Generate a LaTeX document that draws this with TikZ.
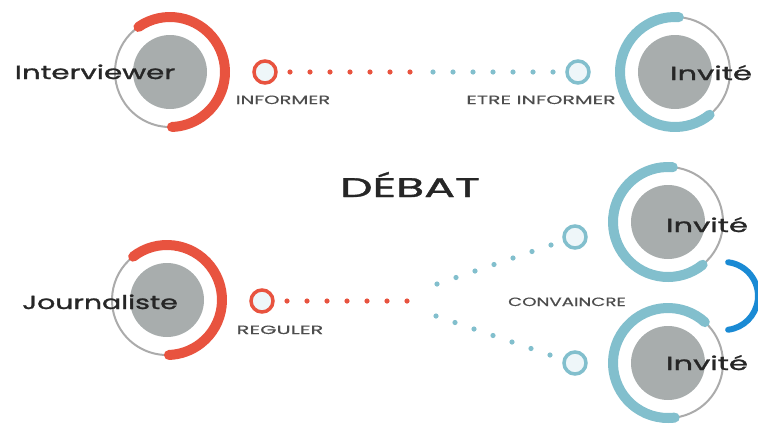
\documentclass[tikz,border=0pt]{standalone}
\usepackage{fontspec}
\usepackage{graphicx}
\setmainfont{Poppins}
\newfontfamily\bigfont[FakeBold=1.2]{Poppins}
\newfontfamily\labfont[FakeBold=0.4]{Poppins}
\newcommand\hstr[2]{\scalebox{#1}[1]{#2}}
\usetikzlibrary{calc}
\definecolor{cred}{RGB}{232,83,63}
\definecolor{cblue}{RGB}{130,191,205}
\definecolor{cdisc}{RGB}{168,173,173}
\definecolor{cring}{RGB}{171,171,171}
\definecolor{clight}{RGB}{238,246,249}
\definecolor{cbrack}{RGB}{26,138,212}
\definecolor{ctext}{RGB}{38,38,38}
\definecolor{clab}{RGB}{77,77,77}
\tikzset{
  disc/.style={circle, fill=cdisc, minimum size=74pt, inner sep=0pt},
  thinring/.style={draw=cring, line width=2pt},
  redarc/.style={draw=cred, line width=10pt, line cap=round},
  bluearc/.style={draw=cblue, line width=10pt, line cap=round},
  redhub/.style={circle, draw=cred, fill=clight, line width=3.5pt, minimum size=22pt, inner sep=0pt},
  bluehub/.style={circle, draw=cblue, fill=clight, line width=3.5pt, minimum size=22pt, inner sep=0pt},
  bigtext/.style={font=\bigfont\fontsize{19}{19}\selectfont, text=ctext, anchor=base, inner sep=0pt},
  labtext/.style={font=\labfont\fontsize{12}{12}\selectfont, text=clab, anchor=base, inner sep=0pt},
  titletext/.style={font=\bigfont\fontsize{27}{27}\selectfont, text=ctext, anchor=base, inner sep=0pt},
  reddot/.style={fill=cred},
  bluedot/.style={fill=cblue},
}
\begin{document}
\begin{tikzpicture}[x=1pt,y=1pt]
\useasboundingbox (0,0) rectangle (758,-424);
% ---------- Interviewer ----------
\node[disc] (ivc) at (170,-72) {};
\draw[thinring] (ivc) ++(125:55) arc[start angle=125, end angle=272, radius=55];
\draw[redarc] (ivc) ++(125:55) arc[start angle=125, end angle=-88, radius=55];
\node[bigtext] (ivt) at (95,-79) {\hstr{1.54}{Interviewer}};
% ---------- Invité top ----------
\node[disc] (i1c) at (675,-72) {};
\draw[thinring] (i1c) ++(-51:55) arc[start angle=-51, end angle=86, radius=55];
\draw[bluearc] (i1c) ++(86:55) arc[start angle=86, end angle=309, radius=55];
\node[bigtext] (i1t) at (711,-80) {\hstr{1.61}{Invité}};
% ---------- hubs top ----------
\node[redhub] (inf) at (265,-72) {};
\node[bluehub] (etre) at (578,-72) {};
\foreach \k in {0,...,6} {
  \fill[reddot] ($(inf)+(25+20*\k,0)$) circle[radius=2.6];
  \fill[bluedot] ($(etre)+(-145+20*\k,0)$) circle[radius=2.6];
}
\node[labtext] (inft) at (283,-104) {\hstr{1.63}{INFORMER}};
\node[labtext] (etret) at (541,-104) {\hstr{1.71}{ETRE INFORMER}};
% ---------- title ----------
\node[titletext] (deb) at (410,-197) {\hstr{1.7}{DÉBAT}};
% ---------- Journaliste ----------
\node[disc] (jc) at (167,-300) {};
\draw[thinring] (jc) ++(128:55) arc[start angle=128, end angle=272, radius=55];
\draw[redarc] (jc) ++(128:55) arc[start angle=128, end angle=-88, radius=55];
\node[bigtext] (jt) at (100,-309) {\hstr{1.49}{Journaliste}};
\node[redhub] (reg) at (262,-301) {};
\node[labtext] (regt) at (280,-334) {\hstr{1.75}{REGULER}};
\foreach \k in {0,...,6} {
  \fill[reddot] ($(reg)+(25+20*\k,0)$) circle[radius=2.6];
}
% ---------- Invité middle ----------
\node[disc] (i2c) at (668,-222) {};
\draw[thinring] (i2c) ++(-51:55) arc[start angle=-51, end angle=85, radius=55];
\draw[bluearc] (i2c) ++(85:55) arc[start angle=85, end angle=309, radius=55];
\node[bigtext] (i2t) at (707,-232) {\hstr{1.61}{Invité}};
% ---------- Invité bottom ----------
\node[disc] (i3c) at (668,-363) {};
\draw[thinring] (i3c) ++(-83:55) arc[start angle=-83, end angle=48, radius=55];
\draw[bluearc] (i3c) ++(48:55) arc[start angle=48, end angle=277, radius=55];
\node[bigtext] (i3t) at (707,-370) {\hstr{1.61}{Invité}};
% ---------- convaincre branches ----------
\node[bluehub] (cv1) at (575,-237) {};
\node[bluehub] (cv2) at (575,-363) {};
\coordinate (u0) at (437,-284);
\coordinate (l0) at (436,-316);
\foreach \k in {0,...,6} {
  \fill[bluedot] ($(u0)+(19*\k,6.5*\k)$) circle[radius=2.6];
  \fill[bluedot] ($(l0)+(19*\k,-6.5*\k)$) circle[radius=2.6];
}
\node[labtext] (cvt) at (567,-306) {\hstr{1.52}{CONVAINCRE}};
% ---------- bracket ----------
\coordinate (bc) at (724,-296);
\draw[draw=cbrack, line width=6pt, line cap=round] (bc) ++(83:34) arc[start angle=83, end angle=-83, radius=34];
\end{tikzpicture}
\end{document}
